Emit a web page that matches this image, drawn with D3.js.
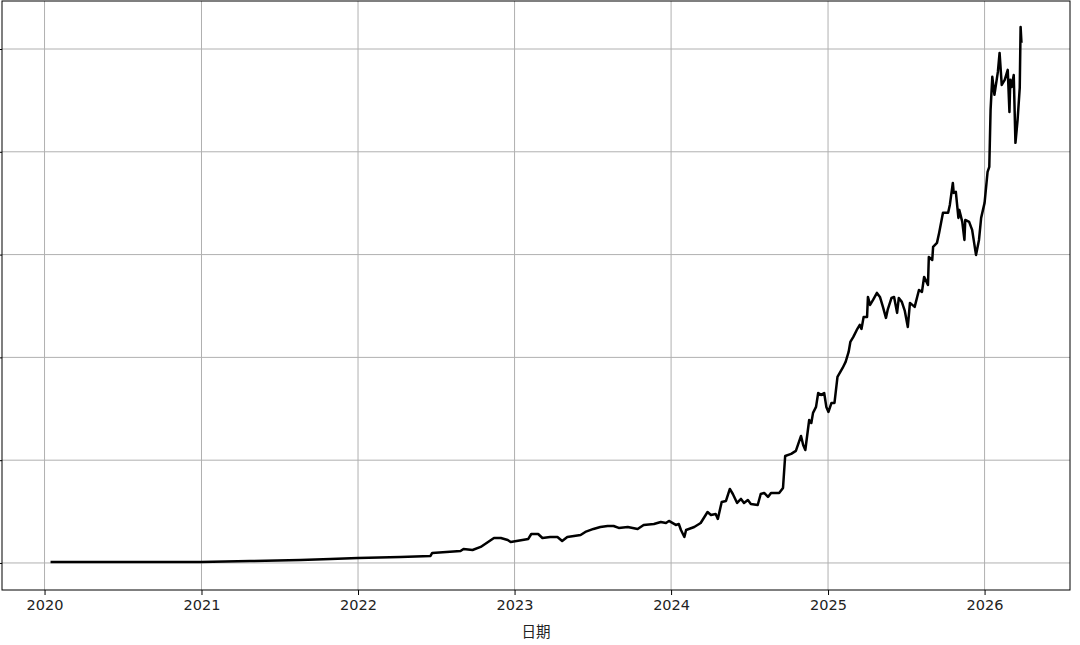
<!DOCTYPE html>
<html><head><meta charset="utf-8">
<script src="https://cdn.jsdelivr.net/npm/d3@7"></script>
<style>body{margin:0;background:#fff}svg{display:block}</style>
</head><body>
<script>
const dates = ["2020-01-15","2020-06-26","2020-12-30","2021-04-24","2021-08-20","2021-10-29","2022-01-01","2022-04-10","2022-06-19","2022-06-23","2022-08-28","2022-09-04","2022-09-25","2022-10-14","2022-11-14","2022-11-30","2022-12-16","2022-12-23","2023-02-02","2023-02-09","2023-02-25","2023-03-07","2023-03-25","2023-04-11","2023-04-22","2023-05-04","2023-06-04","2023-06-15","2023-07-04","2023-07-20","2023-08-06","2023-08-20","2023-09-01","2023-09-22","2023-10-15","2023-10-29","2023-11-22","2023-12-08","2023-12-20","2023-12-27","2024-01-12","2024-01-19","2024-01-24","2024-02-01","2024-02-05","2024-02-24","2024-03-10","2024-03-26","2024-04-03","2024-04-14","2024-04-19","2024-04-28","2024-05-08","2024-05-17","2024-05-24","2024-06-03","2024-06-12","2024-06-19","2024-06-28","2024-07-05","2024-07-21","2024-07-28","2024-08-05","2024-08-14","2024-08-21","2024-09-09","2024-09-18","2024-09-23","2024-10-07","2024-10-18","2024-10-30","2024-11-04","2024-11-09","2024-11-18","2024-11-23","2024-11-27","2024-12-04","2024-12-09","2024-12-16","2024-12-23","2024-12-28","2025-01-02","2025-01-09","2025-01-16","2025-01-23","2025-02-04","2025-02-11","2025-02-18","2025-02-22","2025-03-01","2025-03-09","2025-03-16","2025-03-20","2025-03-25","2025-04-02","2025-04-04","2025-04-09","2025-04-16","2025-04-25","2025-05-02","2025-05-09","2025-05-16","2025-05-20","2025-05-29","2025-06-04","2025-06-11","2025-06-15","2025-06-22","2025-06-29","2025-07-06","2025-07-11","2025-07-22","2025-08-01","2025-08-08","2025-08-13","2025-08-22","2025-08-24","2025-09-01","2025-09-03","2025-09-12","2025-09-17","2025-09-26","2025-10-08","2025-10-12","2025-10-19","2025-10-21","2025-10-26","2025-11-01","2025-11-03","2025-11-10","2025-11-15","2025-11-17","2025-11-26","2025-12-03","2025-12-12","2025-12-19","2025-12-24","2026-01-01","2026-01-08","2026-01-12","2026-01-15","2026-01-19","2026-01-24","2026-02-01","2026-02-05","2026-02-10","2026-02-17","2026-02-24","2026-02-28","2026-03-02","2026-03-05","2026-03-10","2026-03-14","2026-03-19","2026-03-24","2026-03-26","2026-03-28"];
const values = [10,10,10,19,29,39,49,58,68,97,117,136,126,156,243,243,224,204,234,282,282,243,253,253,214,253,272,302,331,350,360,360,341,350,331,370,379,399,389,409,370,379,321,253,321,350,389,496,467,477,428,594,603,720,671,584,623,584,613,574,564,671,681,642,681,681,730,1041,1061,1090,1236,1148,1099,1391,1362,1460,1518,1654,1635,1654,1518,1469,1557,1557,1810,1897,1956,2053,2150,2199,2267,2316,2277,2394,2394,2588,2510,2559,2627,2588,2491,2384,2462,2578,2588,2433,2578,2540,2452,2296,2530,2491,2656,2637,2783,2705,2977,2948,3075,3114,3211,3406,3406,3483,3697,3600,3610,3357,3435,3318,3143,3337,3318,3240,2997,3143,3357,3503,3804,3853,4408,4729,4554,4777,4962,4651,4700,4797,4388,4700,4631,4748,4087,4310,4622,5215,5060];
const yTicks = [0,1000,2000,3000,4000,5000];
const xTickYears = [2020,2021,2022,2023,2024,2025,2026];
const xLabel = "日期";

const W = 1080, H = 645;
const m = {left: 2, right: 10, top: 1, bottom: 55};
const pw = W - m.left - m.right, ph = H - m.top - m.bottom;
const parse = d3.timeParse("%Y-%m-%d");
const data = dates.map((d, i) => ({date: parse(d), value: values[i]}));

const ext = d3.extent(data, d => d.date);
const pad = (ext[1] - ext[0]) * 0.05;
const x = d3.scaleTime().domain([new Date(+ext[0] - pad), new Date(+ext[1] + pad)]).range([0, pw]);
const y = d3.scaleLinear().domain([-263, 5467]).range([ph, 0]);

const svg = d3.select("body").append("svg").attr("width", W).attr("height", H);
const g = svg.append("g").attr("transform", `translate(${m.left},${m.top})`);

const xTickDates = xTickYears.map(yv => new Date(yv, 0, 1));

// grid
g.append("g").selectAll("line").data(xTickDates).join("line")
  .attr("x1", d => x(d)).attr("x2", d => x(d)).attr("y1", 0).attr("y2", ph)
  .attr("stroke", "#b0b0b0").attr("stroke-width", 1);
g.append("g").selectAll("line").data(yTicks).join("line")
  .attr("y1", d => y(d)).attr("y2", d => y(d)).attr("x1", 0).attr("x2", pw)
  .attr("stroke", "#b0b0b0").attr("stroke-width", 1);

// line
g.append("path").datum(data)
  .attr("fill", "none").attr("stroke", "#000").attr("stroke-width", 2.5)
  .attr("stroke-linejoin", "round")
  .attr("d", d3.line().x(d => x(d.date)).y(d => y(d.value)));

// frame
g.append("rect").attr("x", 0).attr("y", 0).attr("width", pw).attr("height", ph)
  .attr("fill", "none").attr("stroke", "#000").attr("stroke-width", 1);

// axes
const xAxis = d3.axisBottom(x).tickValues(xTickDates).tickFormat(d3.timeFormat("%Y")).tickSize(5).tickPadding(5);
const xa = g.append("g").attr("transform", `translate(0,${ph})`).call(xAxis);
xa.select(".domain").remove();
xa.selectAll("text").attr("font-family", "DejaVu Sans").attr("font-size", 14.5).attr("fill", "#222");
xa.selectAll("line").attr("stroke", "#000");

const yAxis = d3.axisLeft(y).tickValues(yTicks).tickFormat("").tickSize(5);
const ya = g.append("g").call(yAxis);
ya.select(".domain").remove();
ya.selectAll("line").attr("stroke", "#000");

svg.append("text").attr("x", m.left + pw / 2).attr("y", 637)
  .attr("text-anchor", "middle").attr("font-family", "Noto Sans CJK SC").attr("font-size", 14.5)
  .attr("fill", "#222").text(xLabel);
</script>
</body></html>
